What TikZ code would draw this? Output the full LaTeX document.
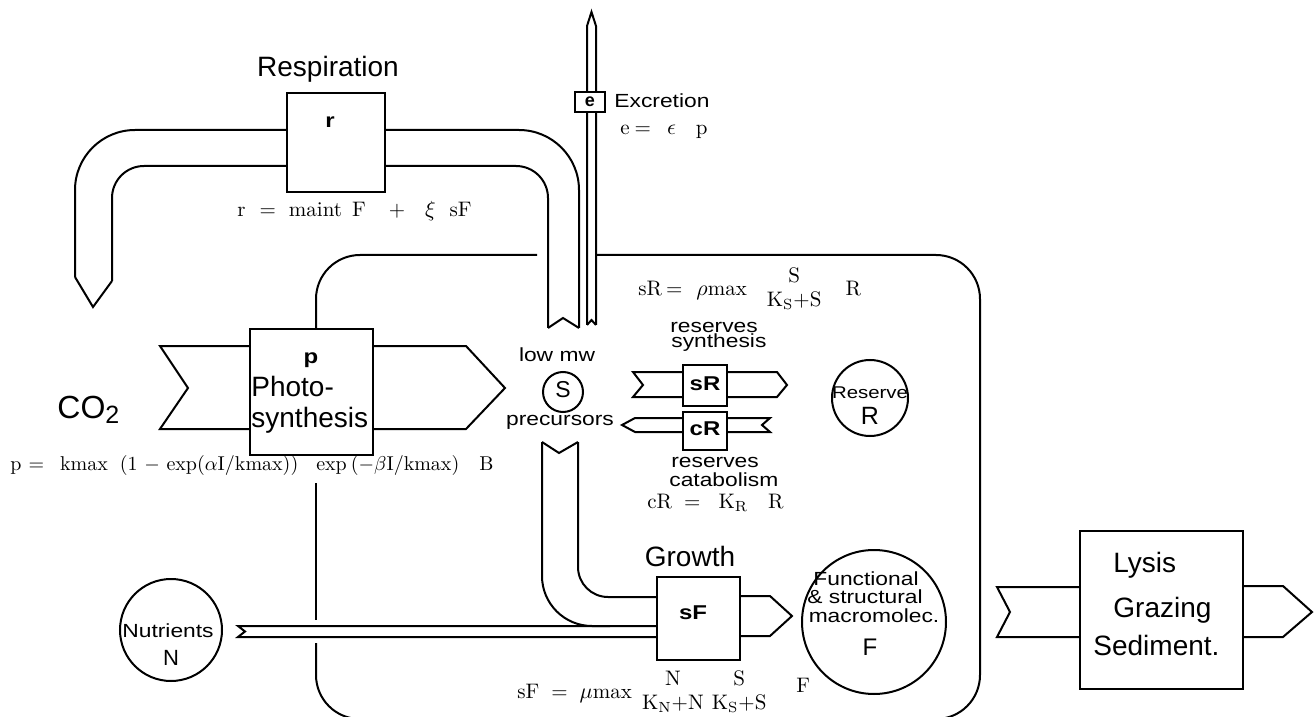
\documentclass[tikz,border=0pt]{standalone}
\usepackage{fontspec}
\usepackage{amsmath}
\newfontfamily\hv{Liberation Sans}
\newfontfamily\hvw[FakeStretch=1.2]{Liberation Sans}
\newcommand{\nfrac}[2]{\ensuremath{\vcenter{\hbox{\begin{tabular}{@{}c@{}}#1\\[0pt]#2\end{tabular}}}}}
\begin{document}
\begin{tikzpicture}[x=0.5pt,y=-0.5pt,
  pipe/.style={draw=black,line width=1pt,line join=miter},
  box/.style={draw=black,fill=white,line width=1pt,inner sep=0pt,rectangle},
  circ/.style={draw=black,fill=white,line width=1pt,inner sep=0pt,circle},
  big/.style={font=\hv\fontsize{14}{15.5}\selectfont,inner sep=0pt,anchor=base},
  mid/.style={font=\hvw\fontsize{9.5}{8.6}\selectfont,inner sep=0pt,anchor=base},
  lab/.style={font=\hvw\bfseries\fontsize{10}{10}\selectfont,inner sep=0pt,anchor=base},
  frm/.style={font=\fontsize{10.5}{12}\selectfont,inner sep=0pt,anchor=base west}]
\useasboundingbox (0,0) rectangle (1314,717);

% ---------- pipes ----------
% respiration pipe
\draw[pipe,rounded corners=30pt] (75,277) -- (75,130) -- (579,130) -- (579,328);
\draw[pipe,rounded corners=16pt] (112,281) -- (112,166) -- (548,166) -- (548,328);
\draw[pipe] (75,277) -- (93,307) -- (112,281);
\draw[pipe] (548,328) -- (563,318) -- (579,328);
% excretion pipe
\draw[pipe] (587,325) -- (587,26) -- (591.5,12) -- (596,26) -- (596,325);
\draw[pipe] (587,325) -- (591.5,320) -- (596,325);
% cell wall
\draw[pipe,rounded corners=22pt] (316,329) -- (316,255) -- (537,255);
\draw[pipe,rounded corners=22pt] (596,255) -- (980,255) -- (980,719) -- (316,719) -- (316,643);
\draw[pipe] (316,483) -- (316,620);
% photosynthesis pipe
\draw[pipe] (160,346) -- (466,346) -- (505,388) -- (466,429) -- (160,429) -- (188,388) -- cycle;
% S to growth pipe
\draw[pipe,rounded corners=15pt] (578,442) -- (578,597) -- (657,597);
\draw[pipe,rounded corners=25pt] (542,442) -- (542,626) -- (610,626);
\draw[pipe] (542,442) -- (559,453) -- (578,442);
% nutrient pipe
\draw[pipe] (657,626) -- (238,626) -- (245,631.5) -- (238,637) -- (657,637);
% growth output
\draw[pipe] (740,596) -- (770,596) -- (792,616) -- (770,636) -- (740,636);
% reserves synthesis pipe
\draw[pipe] (683,372) -- (633,372) -- (643,385) -- (633,397) -- (683,397);
\draw[pipe] (727,372) -- (777,372) -- (787,385) -- (777,397) -- (727,397);
% reserves catabolism pipe
\draw[pipe] (683,418) -- (635,418) -- (622,425) -- (635,432) -- (683,432);
\draw[pipe] (727,418) -- (770,418) -- (762,425) -- (770,432) -- (727,432);
% lysis pipes
\draw[pipe] (1080,587) -- (997,587) -- (1010,612) -- (997,637) -- (1080,637);
\draw[pipe] (1243,586) -- (1283,586) -- (1312,612) -- (1283,637) -- (1243,637);

% ---------- respiration ----------
\node[box,minimum width=49pt,minimum height=49.5pt] (rbox) at (336,142.5) {};
\node[lab] (rlab) at (330,128) {r};
\node[big] (resp) at (328,77) {Respiration};
\node[frm] (rform) at (237,217) {r\hspace{7pt}=\hspace{6.5pt}maint\hspace{5pt}F\hspace{11.5pt}+\hspace{10pt}$\xi$\hspace{7pt}sF};

% ---------- excretion ----------
\node[box,minimum width=15pt,minimum height=10pt] (ebox) at (590,102) {};
\node[lab,font=\hv\bfseries\fontsize{9}{10}\selectfont] (elab) at (590,107) {e};
\node[mid,anchor=base west] (excr) at (614,108) {Excretion};
\node[frm] (eform) at (620,135) {e\hspace{2.5pt}=\hspace{8pt}$\epsilon$\hspace{10pt}p};

% ---------- photosynthesis ----------
\node[box,minimum width=61.5pt,minimum height=63pt] (pbox) at (311.5,392) {};
\node[lab] (plab) at (311,364) {p};
\node[big,anchor=base west] (photo1) at (251,396) {Photo-};
\node[big,anchor=base west] (photo2) at (251,427) {synthesis};
\node[font=\hv\fontsize{16}{17}\selectfont,anchor=base west,inner sep=0pt] (co2) at (57,418) {CO\raisebox{-0.35ex}{\fontsize{12.5}{13}\selectfont 2}};
\node[frm,font=\fontsize{10}{12}\selectfont] (pform) at (10,470) {p\hspace{3.5pt}=\hspace{8pt}kmax\hspace{6pt}(1 $-$ exp($\alpha$I/kmax))\hspace{9pt}exp\hspace{2pt}($-\beta$I/kmax)\hspace{10pt}B};

% ---------- S ----------
\node[circ,minimum size=20pt] (scirc) at (563,392) {};
\node[font=\hv\fontsize{11.5}{12}\selectfont,inner sep=0pt,anchor=base] (slab) at (563,397) {S};
\node[mid] (lowmw) at (557,362) {low mw};
\node[mid] (prec) at (560,425) {precursors};

% ---------- reserves ----------
\node[mid,anchor=base west] (rs1) at (670,332) {reserves};
\node[mid,anchor=base west] (rs2) at (671,348) {synthesis};
\node[box,minimum width=22pt,minimum height=20.5pt] (sRbox) at (705,385.5) {};
\node[lab] (sRlab) at (705,390) {sR};
\node[box,minimum width=22pt,minimum height=19pt] (cRbox) at (705,431) {};
\node[lab] (cRlab) at (705,436) {cR};
\node[mid,anchor=base west] (rc1) at (671,467) {reserves};
\node[mid,anchor=base west] (rc2) at (669,486) {catabolism};
\node[frm] (sRform) at (638,295) {sR\hspace{2pt}=\hspace{7pt}$\rho$max\hspace{10pt}\nfrac{S}{K$_{\mathrm{S}}$+S}\hspace{12pt}R};
\node[frm] (cRform) at (647,508) {cR\hspace{6pt}=\hspace{9pt}K$_{\mathrm{R}}$\hspace{10pt}R};
\node[circ,minimum size=38pt] (rcirc) at (870,398) {};
\node[mid,font=\hvw\fontsize{8.5}{9}\selectfont] (rtext) at (870,399) {Reserve};
\node[font=\hv\fontsize{12.5}{12}\selectfont,inner sep=0pt,anchor=base] (rlabR) at (870,424) {R};

% ---------- growth ----------
\node[box,minimum width=41.5pt,minimum height=41.5pt] (gbox) at (698.5,618.5) {};
\node[lab] (sFlab) at (693,619) {sF};
\node[big] (growth) at (690,566) {Growth};
\node[frm] (sFform) at (517,698) {sF\hspace{6pt}=\hspace{6pt}$\mu$max\hspace{5pt}\nfrac{N}{K$_{\mathrm{N}}$+N}\hspace{4pt}\nfrac{S}{K$_{\mathrm{S}}$+S}\hspace{15pt}\raisebox{0.6ex}{F}};
\node[circ,minimum size=72pt] (fcirc) at (874,622) {};
\node[mid] (f1) at (866,585) {Functional};
\node[mid] (f2) at (865,603) {\& structural};
\node[mid] (f3) at (874,622) {macromolec.};
\node[font=\hv\fontsize{12}{12}\selectfont,inner sep=0pt,anchor=base] (flab) at (870,655) {F};

% ---------- nutrients ----------
\node[circ,minimum size=51pt] (ncirc) at (171,630) {};
\node[mid] (ntext) at (168,637) {Nutrients};
\node[font=\hv\fontsize{11}{12}\selectfont,inner sep=0pt,anchor=base] (nlab) at (171,665) {N};

% ---------- lysis ----------
\node[box,minimum width=81.5pt,minimum height=79pt] (lbox) at (1161.5,610) {};
\node[big,anchor=base west] (lys1) at (1113,572) {Lysis};
\node[big,anchor=base west] (lys2) at (1113,617) {Grazing};
\node[big,anchor=base west] (lys3) at (1093,655) {Sediment.};
\end{tikzpicture}
\end{document}
